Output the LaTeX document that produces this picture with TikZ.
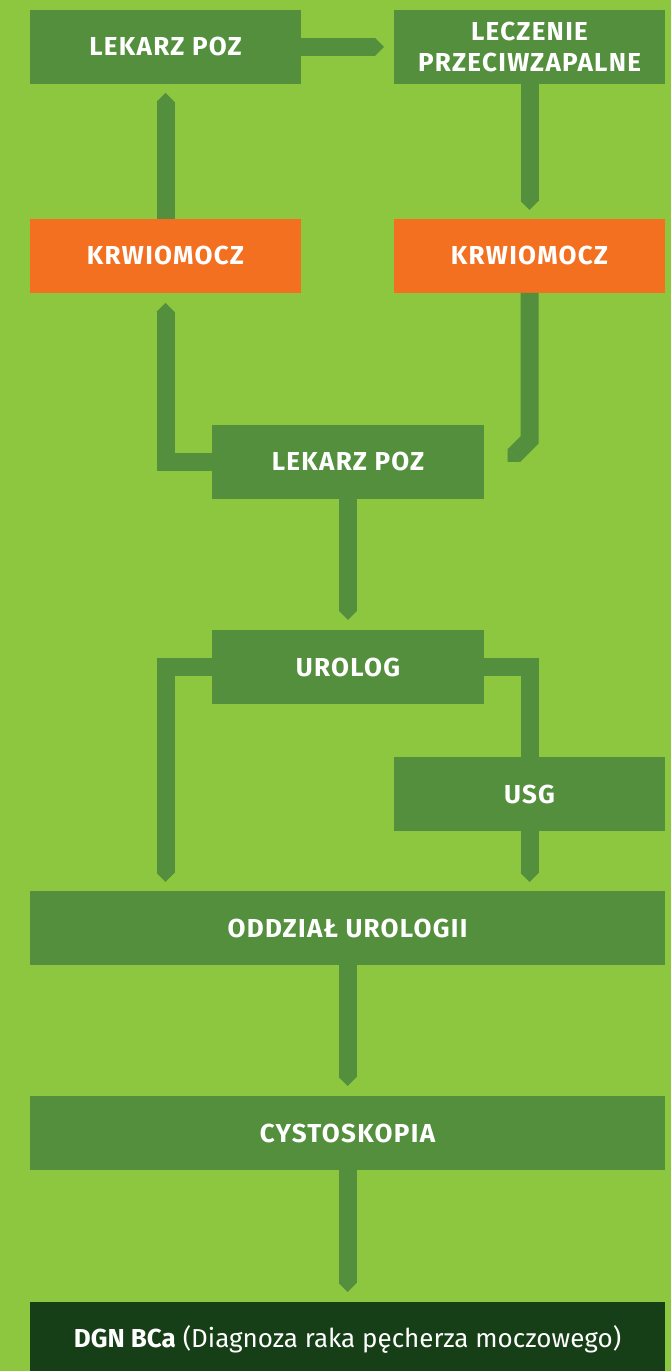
\documentclass[tikz,border=0pt]{standalone}
\usepackage{fontspec}
\setmainfont{Fira Sans}
\newfontfamily\boxfont{Fira Sans}[LetterSpace=5]
\usepackage{tikz}
\usetikzlibrary{calc}
\usetikzlibrary{arrows.meta}
\definecolor{bggreen}{HTML}{8DC63F}
\definecolor{boxgreen}{HTML}{538F3D}
\definecolor{boxorange}{HTML}{F37021}
\definecolor{boxdark}{HTML}{173F17}
\tikzset{
  box/.style={rectangle, fill=boxgreen, text=white, inner sep=0pt, outer sep=0pt, minimum height=\bh, minimum width=271pt, anchor=north west, align=center, font=\boxfont\fontsize{26}{31}\selectfont\bfseries},
  conn/.style={draw=boxgreen, line width=18pt, line join=miter},
  pointed/.style={-{Triangle[width=18pt, length=9pt, line width=0pt]}}
}

\begin{document}
\begin{tikzpicture}[x=1pt, y=1pt]

\newcommand\bh{74pt}

\fill[bggreen] (0,0) rectangle (671,1371);
\useasboundingbox (0,0) rectangle (671,1371);

\node at (30,1361) [box] (lekfirst) {LEKARZ POZ};
\node at (394,1361) [box] (leczenie) {LECZENIE\\PRZECIWZAPALNE};
\node at (30,1152) [box, fill=boxorange] (krleft) {KRWIOMOCZ};
\node at (394,1152) [box, fill=boxorange] (krright) {KRWIOMOCZ};
\node at (212,946) [box, minimum width=272pt] (leksecond) {LEKARZ POZ};
\node at (212,741) [box, minimum width=272pt] (urolog) {UROLOG};
\node at (394,614) [box] (usg) {USG};
\node at (30,480) [box, minimum width=635pt] (oddzial) {ODDZIAŁ UROLOGII};
\node at (30,275) [box, minimum width=635pt] (cysto) {CYSTOSKOPIA};
\node at (30,69) [box, minimum width=635pt, fill=boxdark, font=\fontsize{26}{31}\selectfont] (dgn) {\textbf{DGN BCa} (Diagnoza raka pęcherza moczowego)};

\draw[conn, pointed] (lekfirst.east) -- ++(83,0);
\draw[conn, pointed] (krleft.north) -- ($(lekfirst.south)+(0,-9)$);
\draw[conn, pointed] (leczenie.south) -- ($(krright.north)+(0,9)$);
\draw[conn, pointed] (leksecond.west) -| ($(krleft.south)+(0,-10)$);
\draw[conn, pointed] (krright.south) -- ($(leksecond.east -| krright.south)+(0,22)$) -- ($(leksecond.east)+(23.5,0)$);
\draw[conn, pointed] (leksecond.south) -- ($(urolog.north)+(0,10)$);
\draw[conn, pointed] (urolog.west) -| ($(oddzial.north -| krleft.south)+(0,9)$);
\draw[conn] (urolog.east) -| (usg.north);
\draw[conn, pointed] (usg.south) -- ($(oddzial.north -| usg.south)+(0,9)$);
\draw[conn, pointed] (oddzial.south) -- ($(cysto.north)+(0,10)$);
\draw[conn, pointed] (cysto.south) -- ($(dgn.north)+(0,10)$);

\end{tikzpicture}
\end{document}
